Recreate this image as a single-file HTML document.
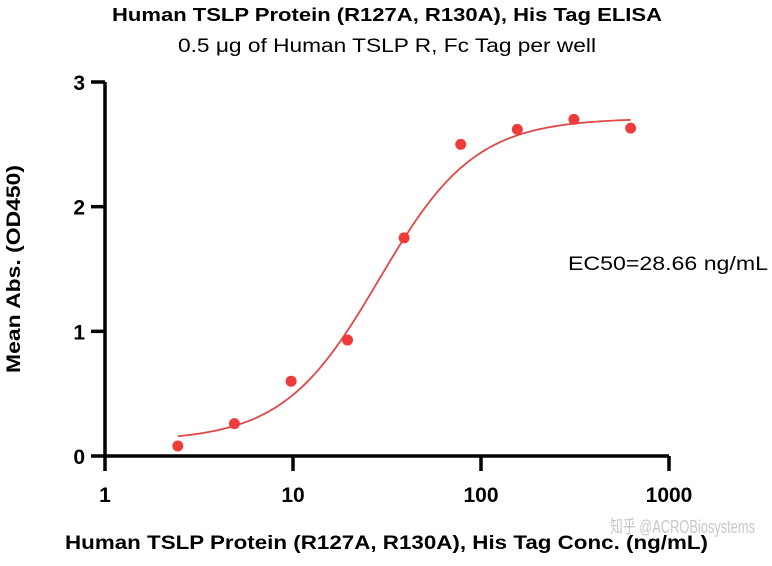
<!DOCTYPE html>
<html><head><meta charset="utf-8">
<style>
body{margin:0;background:#fff;}
svg text{font-family:"Liberation Sans","Noto Sans CJK SC",sans-serif;}
</style></head>
<body>
<svg id="chart" width="772" height="561" viewBox="0 0 772 561" xmlns="http://www.w3.org/2000/svg">
<text x="112" y="21" font-size="18" font-weight="bold" textLength="550" lengthAdjust="spacingAndGlyphs">Human TSLP Protein (R127A, R130A), His Tag ELISA</text>
<text x="178" y="52" font-size="19" textLength="418" lengthAdjust="spacingAndGlyphs">0.5 μg of Human TSLP R, Fc Tag per well</text>
<text transform="translate(20,373) rotate(-90)" font-size="19" font-weight="bold" textLength="208" lengthAdjust="spacingAndGlyphs">Mean Abs. (OD450)</text>
<text x="65" y="549" font-size="19" font-weight="bold" textLength="643" lengthAdjust="spacingAndGlyphs">Human TSLP Protein (R127A, R130A), His Tag Conc. (ng/mL)</text>
<text x="568" y="270" font-size="19" textLength="200" lengthAdjust="spacingAndGlyphs">EC50=28.66 ng/mL</text>
<text x="610" y="533" font-size="18" fill="#c8c8c8" textLength="145" lengthAdjust="spacingAndGlyphs">知乎 @ACROBiosystems</text>
<g id="axes"></g>
<g id="marks"></g>
</svg>
<script>
const concentrations=[2.44,4.88,9.77,19.5,39,78,156,312,625];
const absorbances=[0.08,0.26,0.60,0.93,1.75,2.50,2.62,2.70,2.63];
const xTicks=[1,10,100,1000];
const xTickLabels=["1","10","100","1000"];
const yTicks=[0,1,2,3];
const yTickLabels=["0","1","2","3"];
const fitBottom=0.12,fitTop=2.71,ec50=28.66,hill=1.7;

const NS="http://www.w3.org/2000/svg";
const X0=105,X1=669,Y0=456,Y1=82;
function xs(v){return X0+(Math.log10(v)-0)/3*(X1-X0);}
function ys(v){return Y0-v/3*(Y0-Y1);}
function mk(tag,attrs,parent){const e=document.createElementNS(NS,tag);for(const k in attrs)e.setAttribute(k,attrs[k]);parent.appendChild(e);return e;}
const axes=document.getElementById('axes'),marks=document.getElementById('marks');
let a=mk('line',{x1:X0,y1:Y1,x2:X0,y2:Y0+1.5,stroke:'#000','stroke-width':3.5},axes);


a=mk('line',{x1:X0-1.5,y1:Y0,x2:X1,y2:Y0,stroke:'#000','stroke-width':3.5},axes);


xTicks.forEach((t,i)=>{
 const l=mk('line',{x1:xs(t),y1:Y0,x2:xs(t),y2:Y0+15,stroke:'#000','stroke-width':3.5},axes);
 
 
 const tx=mk('text',{x:xs(t),y:502,'text-anchor':'middle','font-size':21,'font-weight':'bold'},axes);
 tx.textContent=xTickLabels[i];
 
 
});
yTicks.forEach((t,i)=>{
 const l=mk('line',{x1:X0-14,y1:ys(t),x2:X0,y2:ys(t),stroke:'#000','stroke-width':3.5},axes);
 
 
 const tx=mk('text',{x:X0-20,y:ys(t)+8,'text-anchor':'end','font-size':21,'font-weight':'bold'},axes);
 tx.textContent=yTickLabels[i];
 
 
});
function fit(x){return fitBottom+(fitTop-fitBottom)/(1+Math.pow(ec50/x,hill));}
let d='';
const lmin=Math.log10(concentrations[0]),lmax=Math.log10(concentrations[concentrations.length-1]);
for(let i=0;i<=200;i++){const x=Math.pow(10,lmin+(lmax-lmin)*i/200);d+=(i?'L':'M')+xs(x).toFixed(2)+','+ys(fit(x)).toFixed(2);}
const p=mk('path',{d:d,fill:'none',stroke:'#e04848','stroke-width':1.8},marks);


concentrations.forEach((c,i)=>{
 const pt=mk('circle',{cx:xs(c),cy:ys(absorbances[i]),r:5.5,fill:'#ee3b3b'},marks);
 
 
});
</script>
</body></html>
